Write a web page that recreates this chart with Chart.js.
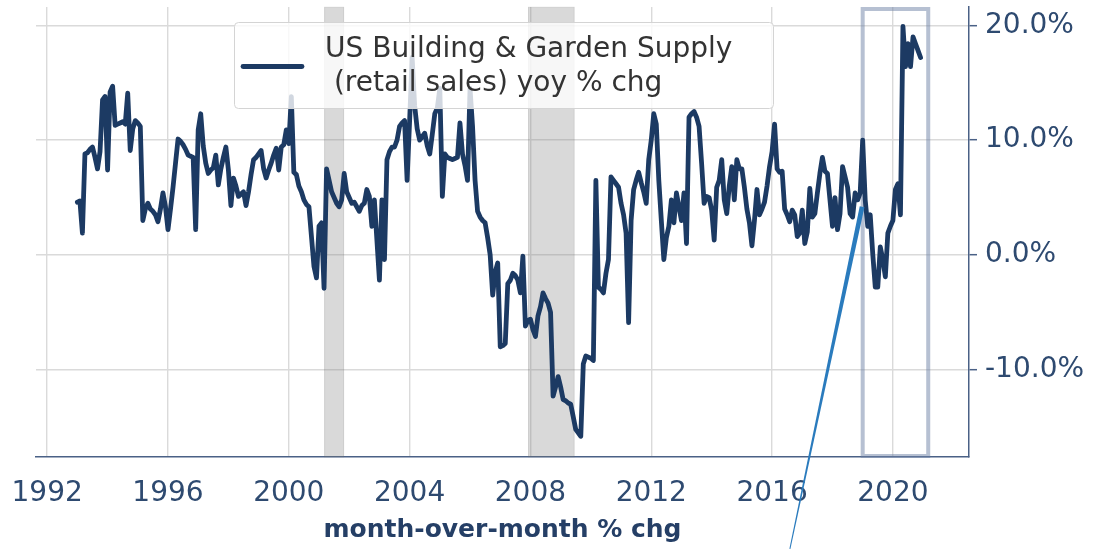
<!DOCTYPE html>
<html>
<head>
<meta charset="utf-8">
<script src="https://cdn.jsdelivr.net/npm/chart.js@4.4.1/dist/chart.umd.min.js"></script>
<style>
  html, body { margin: 0; padding: 0; background: #fff; }
  canvas { display: block; }
</style>
</head>
<body>
<canvas id="chart-yoy" width="1094" height="550"></canvas>
<script>
// US Building & Garden Supply retail sales, yoy % chg, monthly from Jan 1993
const FIRST_YEAR = 1993;
const yoy = [
  4.6, 4.7, 1.9, 8.8, 8.9, 9.2, 9.4, 8.5, 7.5, 9.0, 13.5, 13.8,          // 1993
  7.4, 14.2, 14.7, 11.3, 11.4, 11.5, 11.6, 11.4, 14.1, 9.1, 11.0, 11.7,  // 1994
  11.5, 11.2, 3.0, 4.0, 4.5, 4.0, 3.8, 3.5, 2.9, 4.0, 5.4, 4.2,          // 1995
  2.2, 4.0, 5.9, 8.0, 10.1, 9.9, 9.6, 9.2, 8.7, 8.6, 8.5, 2.2,           // 1996
  10.9, 12.3, 9.5, 8.0, 7.1, 7.4, 7.6, 8.7, 6.1, 7.5, 8.5, 9.4,          // 1997
  7.4, 4.3, 6.7, 6.0, 5.1, 5.3, 5.5, 4.3, 5.5, 7.0, 8.3, 8.5,            // 1998
  8.8, 9.1, 7.5, 6.7, 7.4, 8.0, 8.7, 9.3, 7.4, 9.4, 9.6, 10.9,           // 1999
  9.7, 13.8, 7.2, 7.0, 6.0, 5.5, 4.8, 4.4, 4.2, 1.6, -1.0, -2.0,         // 2000
  2.5, 2.8, -2.9, 7.5, 6.5, 5.5, 5.0, 4.5, 4.2, 4.8, 7.1, 5.5,           // 2001
  5.0, 4.5, 4.6, 4.2, 3.8, 4.3, 4.5, 5.7, 5.1, 2.5, 4.8, 1.3,            // 2002
  -2.2, 4.8, -0.4, 8.3, 9.0, 9.4, 9.4, 10.0, 11.2, 11.5, 11.7, 6.5,      // 2003
  11.7, 17.2, 13.0, 11.0, 10.0, 10.3, 10.6, 9.5, 8.8, 10.5, 12.3, 12.8,  // 2004
  14.5, 5.1, 8.8, 8.5, 8.4, 8.3, 8.4, 8.5, 11.5, 8.8, 7.8, 6.5,          // 2005
  14.5, 11.2, 6.5, 3.8, 3.3, 3.0, 2.8, 1.5, 0.0, -3.5, -1.5, -0.7,       // 2006
  -8.0, -7.9, -7.7, -2.5, -2.2, -1.6, -1.8, -2.2, -3.3, -0.1, -6.2, -5.7, // 2007
  -5.6, -6.5, -7.1, -5.3, -4.5, -3.3, -3.8, -4.2, -5.0, -12.3, -11.5, -10.6, // 2008
  -11.5, -12.6, -12.7, -12.9, -13.0, -14.1, -15.2, -15.5, -15.8, -9.5, -8.8, -8.9, // 2009
  -9.0, -9.2, 6.5, -2.8, -3.0, -3.3, -1.6, -0.4, 6.8, 6.5, 6.2, 5.9,     // 2010
  4.5, 3.5, 1.9, -5.9, 3.0, 5.7, 6.5, 7.2, 6.3, 5.5, 4.5, 8.3,           // 2011
  10.0, 12.3, 11.4, 6.5, 3.0, -0.4, 1.5, 2.5, 4.8, 2.8, 5.4, 4.2,        // 2012
  3.0, 5.4, 1.0, 12.0, 12.3, 12.5, 12.0, 11.2, 8.0, 4.5, 5.1, 5.0,       // 2013
  3.9, 1.3, 5.9, 6.5, 8.3, 4.8, 3.6, 6.0, 7.7, 4.8, 8.3, 7.5,            // 2014
  7.5, 5.9, 4.0, 2.8, 0.8, 3.0, 5.7, 3.5, 4.0, 4.6, 6.0, 7.7,            // 2015
  9.0, 11.4, 7.5, 7.2, 7.3, 4.0, 3.5, 2.9, 3.9, 3.5, 1.6, 1.9,           // 2016
  3.9, 1.0, 2.0, 5.8, 3.3, 3.6, 5.4, 7.1, 8.5, 7.3, 7.1, 4.8,            // 2017
  2.5, 5.0, 2.2, 3.6, 7.7, 6.8, 5.9, 3.6, 3.3, 5.4, 4.8, 5.4,            // 2018
  10.0, 4.8, 2.5, 3.5, 0.1, -2.8, -2.8, 0.7, -0.4, -1.9, 1.9, 2.5,       // 2019
  3.0, 5.7, 6.2, 3.5, 19.9, 16.4, 18.4, 16.4, 19.0, 18.4, 17.8, 17.2     // 2020
];

const xTicks = [1992, 1996, 2000, 2004, 2008, 2012, 2016, 2020];
const yTicks = [-10, 0, 10, 20];
const recessions = [[2001.17, 2001.83], [2007.92, 2009.46]];
const highlight = [2019.0, 2021.17];
// arrow from below the axis up to the Jan-2019 reading
const arrowTail = [2016.59, -25.6];
const arrowHead = [2018.98, 4.2];

const legendLines = ['US Building & Garden Supply', ' (retail sales) yoy % chg'];
const axisTitle = 'month-over-month % chg';

const FONT  = "'DejaVu Sans', sans-serif";
const LINE  = '#1c3a63';
const GRID  = '#dadada';
const SPINE = '#4a6186';
const TICK  = '#2e4a70';

const overlays = {
  id: 'overlays',
  beforeDatasetsDraw(chart) {
    const { ctx, chartArea: a, scales: { x } } = chart;
    ctx.save();
    recessions.forEach(([s, e]) => {
      const x0 = x.getPixelForValue(s), x1 = x.getPixelForValue(e);
      ctx.fillStyle = 'rgba(128,128,128,0.3)';
      ctx.fillRect(x0, a.top, x1 - x0, a.bottom - a.top);
      ctx.strokeStyle = 'rgba(0,0,0,0.06)';
      ctx.lineWidth = 1;
      ctx.strokeRect(x0 + 0.5, a.top, x1 - x0 - 1, a.bottom - a.top);
    });
    const h0 = x.getPixelForValue(highlight[0]), h1 = x.getPixelForValue(highlight[1]);
    ctx.strokeStyle = 'rgba(110,130,165,0.5)';
    ctx.lineWidth = 4;
    ctx.strokeRect(h0, a.top + 2, h1 - h0, a.bottom - a.top - 3);
    ctx.restore();
  },
  afterDatasetsDraw(chart) {
    const { ctx, scales: { x, y } } = chart;
    ctx.save();
    // legend
    ctx.fillStyle = 'rgba(255,255,255,0.8)';
    ctx.strokeStyle = '#d4d4d4';
    ctx.lineWidth = 1;
    ctx.beginPath();
    ctx.roundRect(234.5, 22.5, 539, 86, 4);
    ctx.fill();
    ctx.stroke();
    ctx.strokeStyle = LINE;
    ctx.lineWidth = 4.8;
    ctx.lineCap = 'round';
    ctx.beginPath();
    ctx.moveTo(243, 66.5);
    ctx.lineTo(302, 66.5);
    ctx.stroke();
    ctx.fillStyle = '#333333';
    ctx.font = '28px ' + FONT;
    ctx.textBaseline = 'alphabetic';
    ctx.fillText(legendLines[0], 325, 57);
    ctx.fillText(legendLines[1], 325, 91);

    // wedge arrow
    const tx = x.getPixelForValue(arrowTail[0]), ty = y.getPixelForValue(arrowTail[1]);
    const hx = x.getPixelForValue(arrowHead[0]), hy = y.getPixelForValue(arrowHead[1]);
    const ang = Math.atan2(hy - ty, hx - tx);
    const nx = -Math.sin(ang), ny = Math.cos(ang);
    ctx.fillStyle = '#2a7bbd';
    ctx.beginPath();
    ctx.moveTo(hx + nx * 2.4, hy + ny * 2.4);
    ctx.lineTo(hx - nx * 2.4, hy - ny * 2.4);
    ctx.lineTo(tx - nx * 0.5, ty - ny * 0.5);
    ctx.lineTo(tx + nx * 0.5, ty + ny * 0.5);
    ctx.closePath();
    ctx.fill();
    ctx.restore();
  }
};

function zeroPadding(s) {
  s.paddingLeft = 0; s.paddingRight = 0; s.paddingTop = 0; s.paddingBottom = 0;
}

new Chart(document.getElementById('chart-yoy').getContext('2d'), {
  type: 'line',
  data: {
    datasets: [{
      label: legendLines.join(''),
      data: yoy.map((v, i) => ({ x: FIRST_YEAR + i / 12, y: v })),
      borderColor: LINE,
      borderWidth: 4.8,
      pointRadius: 0,
      tension: 0,
      borderJoinStyle: 'round',
      borderCapStyle: 'round'
    }]
  },
  options: {
    responsive: false,
    animation: false,
    devicePixelRatio: 1,
    layout: { padding: { left: 36, top: 7, right: 0, bottom: 0 } },
    plugins: { legend: { display: false }, tooltip: { enabled: false } },
    scales: {
      x: {
        type: 'linear',
        min: 1991.63, max: 2022.52,
        afterBuildTicks: s => { s.ticks = xTicks.map(v => ({ value: v })); },
        afterFit: s => { s.height = 93; zeroPadding(s); },
        grid: { color: GRID, lineWidth: 1.4, drawTicks: false },
        border: { color: SPINE, width: 1.5 },
        ticks: {
          color: TICK, font: { family: FONT, size: 28 }, padding: 20,
          maxRotation: 0, autoSkip: false, callback: v => String(v)
        },
        title: {
          display: true, text: axisTitle, color: '#253f66',
          font: { family: FONT, size: 25, weight: 'bold' },
          padding: { top: 0, bottom: 5 }
        }
      },
      y: {
        position: 'right',
        min: -17.6, max: 21.6,
        afterBuildTicks: s => { s.ticks = yTicks.map(v => ({ value: v })); },
        afterFit: s => { s.width = 125; zeroPadding(s); },
        grid: { color: GRID, lineWidth: 1.4, tickColor: SPINE, tickLength: 8, tickWidth: 1.5 },
        border: { color: SPINE, width: 1.5 },
        ticks: {
          color: TICK, font: { family: FONT, size: 28 }, padding: 8,
          callback: v => v.toFixed(1) + '%'
        }
      }
    }
  },
  plugins: [overlays]
});
</script>
</body>
</html>
